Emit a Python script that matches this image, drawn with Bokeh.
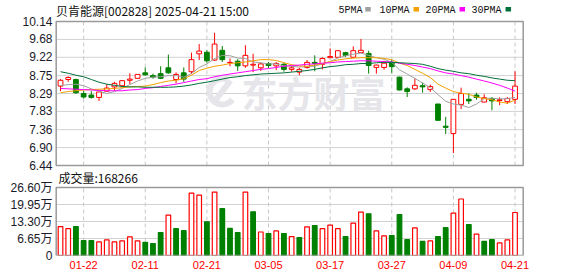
from bokeh.plotting import figure
from bokeh.models import Range1d, FixedTicker, ColumnDataSource
from bokeh.core.properties import value
from bokeh.embed import file_html
from bokeh.resources import INLINE

# ---------------- data ----------------
dates = ["01-17", "01-20", "01-21", "01-22", "01-23", "01-24", "01-27", "02-05", "02-06", "02-07",
         "02-10", "02-11", "02-12", "02-13", "02-14", "02-17", "02-18", "02-19", "02-20", "02-21",
         "02-24", "02-25", "02-26", "02-27", "02-28", "03-03", "03-04", "03-05", "03-06", "03-07",
         "03-10", "03-11", "03-12", "03-13", "03-14", "03-17", "03-18", "03-19", "03-20", "03-21",
         "03-24", "03-25", "03-26", "03-27", "03-28", "03-31", "04-01", "04-02", "04-03", "04-07",
         "04-08", "04-09", "04-10", "04-11", "04-14", "04-15", "04-16", "04-17", "04-18", "04-21"]

opens = [8.48, 8.65, 8.65, 8.29, 8.25, 8.19, 8.35, 8.46, 8.49, 8.63,
         8.68, 8.82, 8.75, 8.80, 8.95, 8.65, 8.82, 8.85, 9.31, 9.35,
         9.15, 9.40, 9.08, 9.12, 9.00, 9.02, 8.95, 9.06, 9.00, 9.04,
         8.91, 8.84, 8.96, 9.09, 9.04, 9.21, 9.22, 9.34, 9.22, 9.34,
         9.32, 8.96, 8.96, 9.09, 8.71, 8.41, 8.41, 8.49, 8.39, 8.02,
         7.45, 7.26, 8.01, 8.14, 8.25, 8.07, 8.16, 8.11, 8.08, 8.14]
highs = [8.66, 8.73, 8.67, 8.36, 8.35, 8.33, 8.53, 8.59, 8.62, 8.81,
         8.78, 8.96, 8.80, 8.99, 9.29, 8.83, 8.96, 9.34, 9.56, 9.40,
         9.85, 9.51, 9.19, 9.17, 9.53, 9.31, 9.08, 9.10, 9.10, 9.08,
         9.00, 8.95, 9.15, 9.27, 9.22, 9.45, 9.39, 9.36, 9.50, 9.69,
         9.39, 9.03, 9.13, 9.15, 8.72, 8.45, 8.68, 8.57, 8.52, 8.02,
         7.69, 8.14, 8.44, 8.29, 8.31, 8.27, 8.20, 8.19, 8.20, 8.86]
lows = [8.35, 8.59, 8.28, 8.16, 8.16, 8.10, 8.34, 8.36, 8.46, 8.53,
        8.68, 8.75, 8.67, 8.66, 8.80, 8.55, 8.59, 8.79, 9.15, 9.08,
        9.13, 9.10, 8.99, 8.87, 8.95, 8.84, 8.87, 8.94, 8.89, 8.85,
        8.85, 8.76, 8.93, 8.86, 8.91, 9.20, 9.22, 9.23, 9.21, 9.34,
        8.80, 8.80, 8.90, 8.82, 8.37, 8.20, 8.38, 8.31, 8.33, 7.60,
        7.25, 6.76, 7.89, 8.02, 8.13, 8.07, 7.86, 7.99, 8.02, 8.02]
closes = [8.63, 8.70, 8.31, 8.20, 8.19, 8.33, 8.43, 8.55, 8.62, 8.66,
          8.78, 8.77, 8.71, 8.68, 8.82, 8.78, 8.66, 9.16, 9.38, 9.13,
          9.56, 9.16, 9.09, 9.00, 9.27, 9.04, 9.05, 9.01, 9.06, 8.91,
          8.95, 8.91, 9.09, 9.06, 9.19, 9.24, 9.39, 9.27, 9.39, 9.40,
          9.01, 9.02, 9.07, 8.98, 8.38, 8.34, 8.50, 8.46, 8.47, 7.60,
          7.42, 8.14, 8.29, 8.10, 8.19, 8.18, 8.10, 8.13, 8.16, 8.48]
# volume in 万 (10k lots)
volumes = [11.3, 10.5, 11.3, 5.8, 5.8, 5.3, 6.1, 5.3, 5.7, 7.3,
           5.7, 5.1, 4.7, 9.0, 15.8, 10.5, 9.7, 24.4, 23.6, 13.2,
           24.8, 18.3, 10.6, 9.0, 24.8, 17.1, 9.2, 8.6, 9.6, 8.6,
           7.4, 7.0, 11.2, 11.7, 10.5, 11.9, 10.5, 7.4, 12.7, 17.0,
           16.3, 9.6, 7.7, 7.8, 16.0, 6.2, 10.8, 5.5, 5.7, 7.4,
           10.9, 16.6, 22.1, 12.1, 8.4, 5.5, 6.2, 4.9, 6.1, 16.8266]

ma5 = [8.49, 8.52, 8.53, 8.49, 8.41, 8.35, 8.29, 8.34, 8.42, 8.52,
       8.61, 8.68, 8.71, 8.72, 8.75, 8.75, 8.71, 8.80, 8.96, 9.05,
       9.19, 9.27, 9.26, 9.20, 9.19, 9.10, 9.08, 9.05, 9.05, 9.00,
       8.99, 8.97, 8.98, 8.99, 9.05, 9.11, 9.20, 9.26, 9.30, 9.33,
       9.27, 9.21, 9.17, 9.09, 8.90, 8.79, 8.68, 8.56, 8.44, 8.26,
       8.09, 8.02, 7.99, 7.93, 8.02, 8.16, 8.17, 8.15, 8.16, 8.19]
ma10 = [8.31, 8.34, 8.36, 8.38, 8.39, 8.40, 8.41, 8.42, 8.44, 8.46,
        8.47, 8.48, 8.52, 8.57, 8.61, 8.63, 8.67, 8.76, 8.88, 8.94,
        8.99, 9.02, 9.06, 9.08, 9.10, 9.13, 9.16, 9.16, 9.14, 9.08,
        9.03, 9.00, 8.99, 9.02, 9.06, 9.11, 9.15, 9.18, 9.20, 9.21,
        9.21, 9.21, 9.19, 9.16, 9.07, 9.01, 8.91, 8.81, 8.70, 8.53,
        8.43, 8.34, 8.30, 8.27, 8.20, 8.16, 8.13, 8.07, 8.04, 8.12]
ma20 = [8.42, 8.41, 8.40, 8.39, 8.38, 8.37, 8.36, 8.36, 8.36, 8.38,
        8.39, 8.42, 8.44, 8.47, 8.50, 8.53, 8.57, 8.61, 8.65, 8.67,
        8.72, 8.76, 8.79, 8.82, 8.85, 8.88, 8.91, 8.93, 8.96, 8.99,
        9.01, 9.02, 9.04, 9.05, 9.07, 9.08, 9.10, 9.11, 9.12, 9.13,
        9.13, 9.12, 9.11, 9.10, 9.07, 9.04, 9.01, 8.97, 8.93, 8.87,
        8.82, 8.79, 8.75, 8.71, 8.66, 8.61, 8.56, 8.50, 8.43, 8.35]
ma30 = [8.85, 8.81, 8.76, 8.72, 8.65, 8.58, 8.53, 8.50, 8.47, 8.46,
        8.46, 8.45, 8.45, 8.45, 8.45, 8.46, 8.48, 8.51, 8.55, 8.58,
        8.62, 8.66, 8.70, 8.72, 8.75, 8.77, 8.79, 8.80, 8.81, 8.82,
        8.84, 8.86, 8.88, 8.91, 8.95, 8.98, 9.00, 9.03, 9.04, 9.06,
        9.06, 9.08, 9.09, 9.09, 9.08, 9.07, 9.06, 9.04, 8.99, 8.93,
        8.89, 8.86, 8.82, 8.80, 8.76, 8.73, 8.69, 8.66, 8.63, 8.62]

price_tick_labels = ["6.44", "6.90", "7.36", "7.83", "8.29", "8.75", "9.22", "9.68", "10.14"]
vol_tick_values = [0, 6.65, 13.30, 19.95, 26.60]
vol_tick_labels = ["0", "6.65万", "13.30万", "19.95万", "26.60万"]
date_label_idx = [3, 11, 19, 27, 35, 43, 51, 59]

title_text = "贝肯能源[002828] 2025-04-21 15:00"
vol_title = "成交量:168266"
ma_names = ["5PMA", "10PMA", "20PMA", "30PMA"]
ma_colors = ["#a0a0a0", "#f2a100", "#ff00ff", "#00703a"]

# ---------------- styling / layout ----------------
RED = "#ff0000"
GREEN = "#008000"
GRID = "#d2d2d2"
VGRID = "#c8c8c8"
FRAME = "#9a9a9a"
TXT = "#111111"
W, H = 578, 276
ML, MR, MB = 54, 53, 21                 # frame: x 54..525, y 0..255
FW, FH = W - ML - MR, H - MB
BOX_X = (-0.56, 60.06)                  # candle slots inside the chart boxes (55.7..522.7 px)
UNIT = (522.7 - 55.7) / (BOX_X[1] - BOX_X[0])
X_RANGE = (BOX_X[0] - (55.7 - ML) / UNIT, BOX_X[1] + (W - MR - 522.7) / UNIT)

P_LO, P_HI = float(price_tick_labels[0]), float(price_tick_labels[-1])
price_ticks = [float(s) for s in price_tick_labels]
P_TOP_PX, P_BOT_PX = 21, 165            # price box on screen
V_TOP_PX, V_BOT_PX = 187, 255           # volume box on screen
V_LO, V_HI = vol_tick_values[0], vol_tick_values[-1]

kp = (P_HI - P_LO) / (P_BOT_PX - P_TOP_PX)
kv = (V_HI - V_LO) / (V_BOT_PX - V_TOP_PX)
PRICE_RANGE = (P_LO - (FH - P_BOT_PX) * kp, P_HI + P_TOP_PX * kp)
VOL_RANGE = (V_LO - (FH - V_BOT_PX) * kv, V_HI + V_TOP_PX * kv)


def px_x(px):
    return X_RANGE[0] + (px - ML) / FW * (X_RANGE[1] - X_RANGE[0])


def px_price(py):
    return PRICE_RANGE[0] + (FH - py) * kp


def px_vol(py):
    return VOL_RANGE[0] + (FH - py) * kv


n = len(dates)
xs = list(range(n))
up = [c >= o for o, c in zip(opens, closes)]
vol_up = [closes[i] >= (closes[i - 1] if i > 0 else opens[0]) for i in range(n)]

p = figure(width=W, height=H, x_range=Range1d(*X_RANGE), y_range=Range1d(*PRICE_RANGE),
           output_backend="svg", toolbar_location=None,
           min_border_left=ML, min_border_right=MR, min_border_top=0, min_border_bottom=MB)
p.extra_y_ranges = {"vol": Range1d(*VOL_RANGE)}
p.background_fill_color = "white"
p.border_fill_color = "white"
p.outline_line_color = None
p.grid.visible = False

# one left axis carrying both the price ticks and the volume ticks (volume ticks placed via the vol scale)
vol_tick_pos = [PRICE_RANGE[0] + (t - VOL_RANGE[0]) * kp / kv for t in vol_tick_values]
overrides = {t: s for t, s in zip(price_ticks, price_tick_labels)}
overrides.update({t: s for t, s in zip(vol_tick_pos, vol_tick_labels)})
p.yaxis.ticker = FixedTicker(ticks=vol_tick_pos + price_ticks)
p.yaxis.major_label_overrides = overrides
p.xaxis.ticker = FixedTicker(ticks=date_label_idx)
p.xaxis.major_label_overrides = {i: dates[i] for i in date_label_idx}
for ax in (p.xaxis, p.yaxis):
    ax.axis_line_color = None
    ax.major_tick_line_color = None
    ax.minor_tick_line_color = None
    ax.major_tick_out = 0
    ax.major_tick_in = 0
p.yaxis.major_label_standoff = 2
p.yaxis.major_label_text_font = "Liberation Sans, Noto Sans CJK SC"
p.yaxis.major_label_text_font_size = "12px"
p.yaxis.major_label_text_color = "#1a1a2a"
p.xaxis.major_label_standoff = 5
p.xaxis.major_label_text_font = "Liberation Sans"
p.xaxis.major_label_text_font_size = "11px"
p.xaxis.major_label_text_color = RED

# grid lines inside the two boxes
p.segment(x0=[BOX_X[0]] * len(price_ticks), x1=[BOX_X[1]] * len(price_ticks), y0=price_ticks,
          y1=price_ticks, line_color=GRID, line_width=1)
p.segment(x0=date_label_idx, x1=date_label_idx, y0=[P_LO] * 8, y1=[P_HI] * 8, line_color=VGRID,
          line_width=1, line_dash="4 3")
p.segment(x0=[BOX_X[0]] * 5, x1=[BOX_X[1]] * 5, y0=vol_tick_values, y1=vol_tick_values,
          line_color=GRID, line_width=1, y_range_name="vol")
p.segment(x0=date_label_idx, x1=date_label_idx, y0=[V_LO] * 8, y1=[V_HI] * 8, line_color=VGRID,
          line_width=1, line_dash="4 3", y_range_name="vol")

# watermark
WM = "#e5e5ea"
p.arc(x=[px_x(222)], y=[px_price(91)], radius=13, radius_units="screen", start_angle=1.2,
      end_angle=5.6, line_color=WM, line_width=6)
p.segment(x0=[px_x(214)], y0=[px_price(101)], x1=[px_x(230)], y1=[px_price(80)], line_color=WM,
          line_width=6)
p.text(x=[px_x(241)], y=[px_price(91)], text=["东方财富"], text_font=value("Noto Sans CJK SC"),
       text_font_style="bold", text_font_size="36px", text_color=WM, text_baseline="middle",
       text_align="left")

# candles
csrc = ColumnDataSource(dict(
    x=xs, high=highs, low=lows,
    top=[max(o, c) for o, c in zip(opens, closes)],
    bottom=[min(o, c) for o, c in zip(opens, closes)],
    line=[RED if u else GREEN for u in up],
    fill=["white" if u else GREEN for u in up],
))
p.segment(x0="x", y0="low", x1="x", y1="high", line_color="line", line_width=1, source=csrc)
p.vbar(x="x", top="top", bottom="bottom", width=0.62, fill_color="fill", line_color="line",
       line_width=1, source=csrc)

for vals, col in zip([ma5, ma10, ma20, ma30], ma_colors):
    p.line(xs, vals, line_color=col, line_width=1)

# volume bars
vsrc = ColumnDataSource(dict(
    x=xs, vol=volumes,
    line=[RED if u else GREEN for u in vol_up],
    fill=["white" if u else GREEN for u in vol_up],
))
p.vbar(x="x", top="vol", bottom=0, width=0.6, fill_color="fill", line_color="line",
       line_width=1.2, source=vsrc, y_range_name="vol")

# box borders
p.quad(left=[BOX_X[0]], right=[BOX_X[1]], bottom=[P_LO], top=[P_HI], fill_color=None,
       line_color=FRAME, line_width=1.5)
p.quad(left=[BOX_X[0]], right=[BOX_X[1]], bottom=[V_LO], top=[V_HI], fill_color=None,
       line_color=FRAME, line_width=1.5, y_range_name="vol")

# header texts
p.text(x=[px_x(55.5)], y=[px_price(9.6)], text=[title_text], text_font=value("Noto Sans CJK SC"),
       text_font_size="12px", text_color=TXT, text_baseline="middle", text_align="left")
leg_text_px = [338, 379, 425, 471]
leg_box_px = [367.5, 415.8, 461.8, 507.8]
p.text(x=[px_x(v) for v in leg_text_px], y=[px_price(9.8)] * 4, text=ma_names,
       text_font=value("Liberation Mono"), text_font_size="10px", text_color=TXT,
       text_baseline="middle", text_align="left")
p.rect(x=[px_x(v) for v in leg_box_px], y=[px_price(8.8)] * 4, width=5.5, height=4.5,
       width_units="screen", height_units="screen", fill_color=ma_colors, line_color=None)
p.text(x=[px_x(58)], y=[px_vol(177.3)], text=[vol_title], text_font=value("Noto Sans CJK SC"),
       text_font_size="12px", text_color=TXT, text_baseline="middle", text_align="left",
       y_range_name="vol")

open("out.html", "w").write(file_html(p, INLINE))
